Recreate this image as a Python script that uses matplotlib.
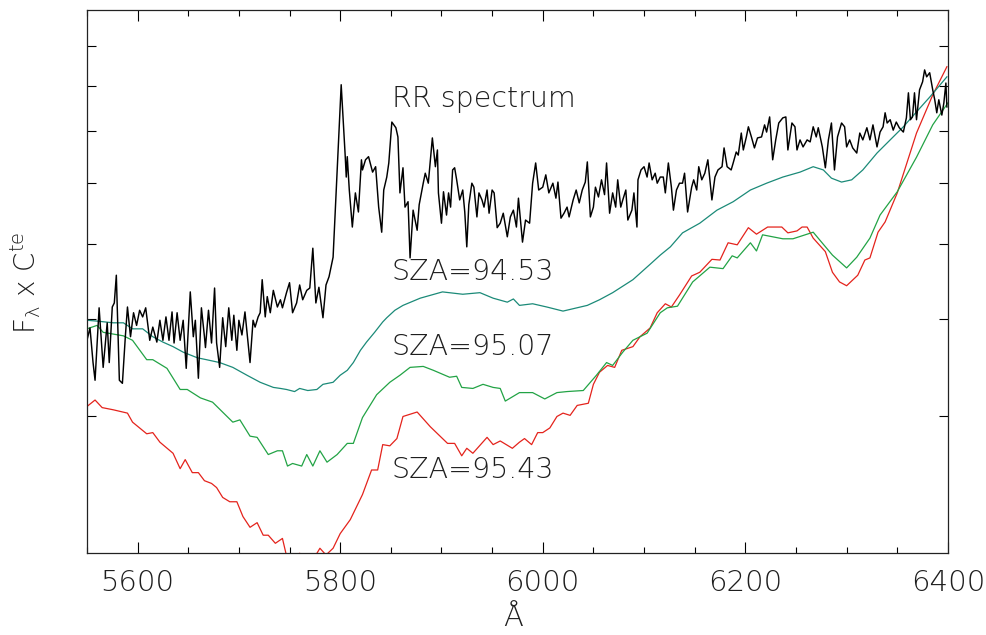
import matplotlib
matplotlib.use("Agg")
import matplotlib.pyplot as plt
from matplotlib.ticker import FixedLocator, MultipleLocator, NullFormatter, NullLocator

plt.rcParams['font.family'] = ['DejaVu Sans']
plt.rcParams['font.weight'] = 200
plt.rcParams['mathtext.fontset'] = 'custom'
plt.rcParams['mathtext.rm'] = 'DejaVu Sans:weight=200'
plt.rcParams['mathtext.it'] = 'DejaVu Sans:weight=200'
plt.rcParams['mathtext.default'] = 'rm'

# ---------------- data ----------------
# RR (rotational Raman) spectrum, wavelength [A] and flux (arbitrary units)
rr_wl = [5550, 5553, 5556, 5558, 5562, 5566, 5570, 5572, 5575, 5577, 5579, 5582, 5585, 5588,
         5590, 5593, 5596, 5599, 5602, 5605, 5608, 5612, 5615, 5619, 5622, 5625, 5628, 5631,
         5634, 5636, 5639, 5642, 5645, 5648, 5652, 5655, 5657, 5660, 5663, 5666, 5667, 5670,
         5673, 5676, 5678, 5681, 5684, 5687, 5690, 5693, 5695, 5698, 5700, 5703, 5706, 5709,
         5711, 5714, 5716, 5719, 5721, 5723, 5726, 5728, 5731, 5734, 5738, 5741, 5743, 5747,
         5750, 5753, 5757, 5760, 5763, 5767, 5770, 5773, 5776, 5779, 5783, 5786, 5789, 5793,
         5801, 5805, 5806, 5807, 5809, 5812, 5815, 5818, 5821, 5822, 5825, 5828, 5832, 5835,
         5838, 5841, 5843, 5846, 5848, 5851, 5855, 5857, 5859, 5862, 5864, 5867, 5869, 5872,
         5876, 5878, 5882, 5884, 5887, 5891, 5894, 5896, 5897, 5900, 5902, 5905, 5907, 5909,
         5911, 5913, 5915, 5918, 5921, 5923, 5925, 5927, 5930, 5932, 5935, 5937, 5940, 5942,
         5945, 5947, 5950, 5952, 5955, 5958, 5961, 5965, 5968, 5971, 5974, 5976, 5980, 5983,
         5987, 5990, 5993, 5996, 6000, 6003, 6006, 6010, 6013, 6015, 6018, 6021, 6024, 6026,
         6030, 6033, 6036, 6039, 6042, 6044, 6047, 6050, 6052, 6055, 6058, 6061, 6063, 6066,
         6069, 6072, 6074, 6077, 6079, 6082, 6084, 6088, 6090, 6093, 6094, 6097, 6100, 6103,
         6105, 6108, 6111, 6113, 6116, 6119, 6121, 6124, 6127, 6129, 6132, 6135, 6138, 6140,
         6143, 6147, 6149, 6152, 6154, 6157, 6160, 6163, 6167, 6170, 6173, 6177, 6179, 6182,
         6186, 6188, 6191, 6193, 6196, 6198, 6201, 6203, 6206, 6209, 6212, 6216, 6219, 6221,
         6224, 6227, 6230, 6233, 6237, 6240, 6242, 6246, 6249, 6251, 6254, 6257, 6261, 6264,
         6267, 6270, 6272, 6276, 6279, 6282, 6285, 6288, 6291, 6295, 6298, 6300, 6303, 6306,
         6310, 6313, 6316, 6320, 6323, 6326, 6330, 6333, 6336, 6338, 6340, 6343, 6346, 6349,
         6352, 6356, 6359, 6361, 6363, 6365, 6367, 6369, 6372, 6375, 6377, 6379, 6382, 6385,
         6387, 6389, 6391, 6394, 6396, 6398, 6399]
rr_flux = [3.76, 3.90, 3.52, 3.34, 4.14, 3.47, 3.96, 3.52, 4.15, 4.20, 4.56, 3.34, 3.31, 3.82,
           4.15, 3.80, 4.08, 3.93, 4.11, 4.03, 4.14, 3.76, 3.91, 3.74, 3.99, 3.76, 4.03, 3.76,
           4.09, 3.73, 4.08, 3.76, 3.99, 3.46, 4.34, 3.80, 3.99, 3.36, 4.14, 3.80, 3.68, 4.11,
           3.73, 4.39, 3.73, 3.47, 4.02, 3.69, 4.14, 3.76, 4.05, 3.65, 3.99, 3.82, 4.09, 3.74,
           3.52, 3.99, 3.91, 4.03, 4.08, 4.50, 4.03, 4.28, 4.08, 4.36, 4.15, 4.24, 4.14, 4.33,
           4.46, 4.08, 4.20, 4.43, 4.24, 4.36, 4.39, 4.94, 4.20, 4.40, 4.02, 4.43, 4.54, 4.81,
           8.02, 6.48, 6.10, 6.48, 5.87, 5.26, 5.82, 5.50, 6.42, 6.23, 6.42, 6.48, 6.19, 6.29,
           5.58, 5.18, 5.87, 6.10, 6.36, 7.18, 7.06, 6.87, 5.82, 6.27, 5.58, 5.67, 4.80, 5.53,
           5.21, 5.62, 5.99, 6.17, 5.99, 6.85, 6.29, 6.61, 5.82, 5.32, 5.84, 5.45, 5.82, 5.58,
           6.23, 6.27, 6.05, 5.70, 5.87, 5.50, 4.96, 5.62, 5.99, 5.92, 5.42, 5.82, 5.70, 5.58,
           5.87, 5.48, 5.87, 5.82, 5.25, 5.32, 5.48, 5.11, 5.42, 5.53, 5.26, 5.73, 5.03, 5.37,
           5.32, 5.99, 6.36, 5.87, 5.92, 6.14, 5.82, 5.99, 5.73, 6.01, 5.40, 5.48, 5.58, 5.42,
           5.70, 5.87, 5.65, 5.87, 6.01, 6.38, 5.42, 5.58, 5.92, 5.75, 6.05, 5.79, 6.36, 5.48,
           5.82, 5.58, 6.05, 5.58, 5.70, 5.87, 5.37, 5.53, 5.82, 5.26, 6.05, 6.23, 6.29, 6.10,
           6.36, 6.05, 6.17, 5.99, 6.10, 6.10, 5.82, 6.36, 5.92, 5.53, 5.87, 5.99, 5.99, 6.17,
           5.50, 5.92, 6.05, 5.87, 6.29, 6.05, 6.17, 6.42, 5.70, 6.10, 6.23, 6.29, 6.65, 6.29,
           6.23, 6.36, 6.57, 6.51, 6.95, 6.61, 6.87, 7.08, 6.87, 6.65, 6.85, 6.87, 7.12, 6.97,
           7.29, 6.42, 6.81, 7.16, 7.27, 7.29, 6.61, 7.16, 7.08, 6.61, 6.81, 6.67, 6.81, 6.77,
           7.08, 6.87, 7.06, 6.67, 6.27, 6.81, 7.16, 6.23, 6.87, 7.16, 7.08, 6.67, 6.81, 6.65,
           6.55, 6.95, 6.81, 7.06, 6.81, 7.12, 6.67, 6.97, 7.08, 7.38, 7.16, 7.23, 7.01, 7.18,
           7.06, 6.97, 7.27, 7.83, 7.23, 7.29, 7.83, 7.23, 7.90, 8.09, 8.38, 8.21, 8.31, 7.90,
           7.67, 7.38, 7.67, 7.33, 7.60, 8.06, 7.51]

# Model, SZA = 94.53
sza1_wl = [5550, 5560, 5576, 5586, 5595, 5605, 5615, 5625, 5635, 5645, 5659, 5668, 5681, 5694,
           5708, 5721, 5734, 5741, 5747, 5755, 5760, 5768, 5777, 5783, 5793, 5800, 5807, 5813,
           5820, 5826, 5834, 5842, 5846, 5854, 5862, 5879, 5901, 5921, 5938, 5951, 5965, 5971,
           5977, 5990, 6004, 6020, 6044, 6056, 6069, 6089, 6106, 6116, 6126, 6138, 6155, 6172,
           6188, 6205, 6221, 6237, 6254, 6267, 6277, 6285, 6295, 6305, 6316, 6330, 6343, 6356,
           6369, 6382, 6399]
sza1_flux = [3.99, 3.98, 3.96, 3.96, 3.89, 3.89, 3.80, 3.74, 3.69, 3.63, 3.57, 3.55, 3.52, 3.47,
             3.39, 3.32, 3.27, 3.26, 3.25, 3.23, 3.26, 3.24, 3.25, 3.30, 3.32, 3.39, 3.44, 3.52,
             3.65, 3.74, 3.85, 3.97, 4.02, 4.11, 4.17, 4.26, 4.34, 4.31, 4.33, 4.26, 4.21, 4.25,
             4.17, 4.19, 4.15, 4.10, 4.17, 4.24, 4.33, 4.50, 4.71, 4.84, 4.96, 5.17, 5.32, 5.53,
             5.67, 5.87, 5.99, 6.10, 6.19, 6.29, 6.23, 6.08, 6.01, 6.05, 6.23, 6.55, 6.81, 7.08,
             7.40, 7.73, 8.21]

# Model, SZA = 95.07
sza2_wl = [5550, 5560, 5566, 5586, 5595, 5609, 5615, 5629, 5642, 5649, 5662, 5674, 5694, 5701,
           5711, 5718, 5729, 5738, 5743, 5748, 5753, 5762, 5767, 5773, 5780, 5787, 5797, 5807,
           5813, 5822, 5836, 5849, 5859, 5869, 5882, 5892, 5908, 5915, 5920, 5931, 5941, 5951,
           5958, 5963, 5977, 5990, 6002, 6014, 6024, 6040, 6053, 6063, 6069, 6079, 6089, 6103,
           6116, 6123, 6133, 6148, 6165, 6178, 6187, 6192, 6205, 6211, 6217, 6237, 6247, 6267,
           6286, 6300, 6310, 6323, 6333, 6350, 6369, 6385, 6400]
sza2_flux = [3.89, 3.93, 3.85, 3.81, 3.76, 3.55, 3.55, 3.46, 3.25, 3.25, 3.17, 3.13, 2.95, 2.97,
             2.83, 2.82, 2.68, 2.71, 2.71, 2.59, 2.61, 2.59, 2.68, 2.59, 2.71, 2.62, 2.68, 2.77,
             2.77, 2.99, 3.20, 3.32, 3.39, 3.47, 3.48, 3.44, 3.37, 3.38, 3.27, 3.26, 3.30, 3.27,
             3.26, 3.14, 3.22, 3.22, 3.16, 3.22, 3.23, 3.24, 3.39, 3.52, 3.49, 3.63, 3.76, 3.84,
             4.08, 4.14, 4.16, 4.47, 4.67, 4.65, 4.83, 4.80, 5.02, 4.90, 5.14, 5.08, 5.08, 5.18,
             4.84, 4.66, 4.81, 5.09, 5.45, 5.84, 6.47, 7.12, 7.60]

# Model, SZA = 95.43
sza3_wl = [5550, 5558, 5565, 5576, 5590, 5595, 5609, 5615, 5622, 5635, 5642, 5647, 5654, 5660,
           5666, 5673, 5678, 5684, 5691, 5698, 5704, 5711, 5718, 5724, 5729, 5736, 5743, 5748,
           5760, 5765, 5772, 5780, 5786, 5793, 5800, 5810, 5822, 5831, 5837, 5842, 5849, 5856,
           5862, 5876, 5889, 5906, 5913, 5920, 5925, 5931, 5945, 5951, 5958, 5970, 5977, 5982,
           5989, 5995, 6000, 6007, 6014, 6020, 6027, 6034, 6045, 6050, 6056, 6064, 6071, 6078,
           6089, 6096, 6106, 6113, 6121, 6127, 6135, 6147, 6155, 6167, 6175, 6183, 6192, 6203,
           6211, 6222, 6236, 6242, 6251, 6256, 6261, 6267, 6279, 6286, 6293, 6300, 6311, 6318,
           6323, 6331, 6338, 6350, 6369, 6385, 6399]
sza3_flux = [3.09, 3.15, 3.08, 3.06, 3.03, 2.95, 2.85, 2.86, 2.78, 2.69, 2.57, 2.64, 2.54, 2.54,
             2.48, 2.46, 2.43, 2.36, 2.33, 2.33, 2.23, 2.16, 2.19, 2.11, 2.11, 2.06, 2.09, 1.96,
             2.00, 1.98, 1.95, 2.03, 1.99, 2.03, 2.12, 2.21, 2.38, 2.56, 2.56, 2.76, 2.75, 2.81,
             3.00, 3.04, 2.91, 2.77, 2.77, 2.67, 2.73, 2.69, 2.82, 2.76, 2.79, 2.73, 2.78, 2.81,
             2.76, 2.86, 2.86, 2.90, 3.00, 3.03, 3.01, 3.10, 3.12, 3.30, 3.42, 3.49, 3.47, 3.65,
             3.69, 3.80, 3.90, 4.08, 4.19, 4.15, 4.30, 4.55, 4.60, 4.78, 4.77, 5.02, 4.99, 5.25,
             5.15, 5.26, 5.26, 5.17, 5.20, 5.26, 5.26, 5.09, 4.89, 4.60, 4.47, 4.42, 4.56, 4.77,
             4.80, 5.18, 5.34, 5.82, 6.95, 7.78, 8.46]

x_major = [5600, 5800, 6000, 6200, 6400]
x_labels = ["5600", "5800", "6000", "6200", "6400"]
y_ticks = [3, 4, 5, 6, 7, 8, 9]

labels = ["RR spectrum", "SZA=94.53", "SZA=95.07", "SZA=95.43"]
label_wl = [5851, 5851, 5851, 5851]
label_flux = [7.51, 4.50, 3.60, 2.50]

# ---------------- plot ----------------
TXT = '#1e1e1e'
fig = plt.figure(figsize=(9.87, 6.35), dpi=100)
ax = fig.add_axes([0.0881, 0.1287, 0.8723, 0.8551])

ax.plot(sza3_wl, sza3_flux, color='#e4231c', lw=0.9)
ax.plot(sza2_wl, sza2_flux, color='#22a345', lw=0.9)
ax.plot(sza1_wl, sza1_flux, color='#1b8a78', lw=0.9)
ax.plot(rr_wl, rr_flux, color='black', lw=1.05)

ax.set_yscale('log')
ax.set_xlim(5550, 6400)
ax.set_ylim(2, 10)

ax.xaxis.set_major_locator(FixedLocator(x_major))
ax.set_xticklabels(x_labels)
ax.xaxis.set_minor_locator(MultipleLocator(50))
ax.yaxis.set_major_locator(FixedLocator(y_ticks))
ax.yaxis.set_major_formatter(NullFormatter())
ax.yaxis.set_minor_locator(NullLocator())
ax.yaxis.set_minor_formatter(NullFormatter())

ax.tick_params(axis='x', which='major', direction='in', length=8, width=0.8,
               top=True, bottom=True, labelsize=21, pad=11, labelcolor=TXT)
ax.tick_params(axis='x', which='minor', direction='in', length=4, width=0.8,
               top=True, bottom=True)
ax.tick_params(axis='y', which='major', direction='in', length=6.5, width=0.8,
               left=True, right=True)
for lab in ax.get_xticklabels():
    lab.set_fontweight(200)
for sp in ax.spines.values():
    sp.set_linewidth(0.9)
    sp.set_color('#222222')

for t, xw, yf in zip(labels, label_wl, label_flux):
    ax.text(xw, yf, t, fontsize=20.5, fontweight=200, color=TXT, ha='left', va='baseline')

fig.text(513 / 987, 1 - 618 / 635, "Å", fontsize=21, fontweight=200, color=TXT,
         ha='center', va='center')
fig.text(25 / 987, 1 - 283 / 635, r"F$_{\rm λ}$ x C$^{\rm te}$", fontsize=20,
         fontweight=200, color=TXT, rotation=90, ha='center', va='center')

fig.savefig("out.png", dpi=100)
